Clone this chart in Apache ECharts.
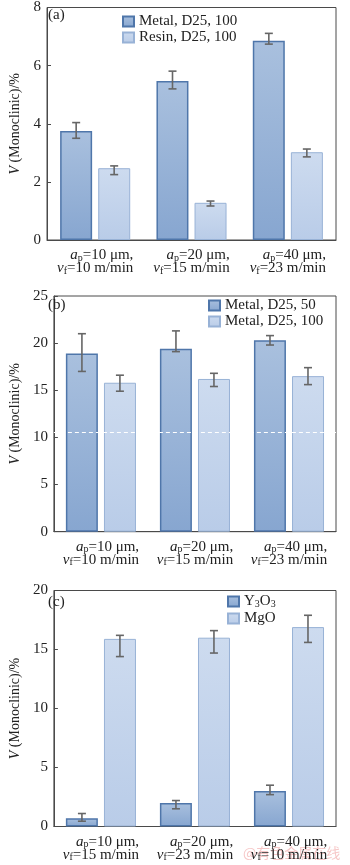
<!DOCTYPE html>
<html>
<head>
<meta charset="utf-8">
<script src="https://cdn.jsdelivr.net/npm/echarts@6/dist/echarts.min.js"></script>
<style>
  html, body { margin: 0; padding: 0; background: #fff; }
  #chart { width: 350px; height: 865px; }
</style>
</head>
<body>
<div id="chart"></div>
<script>
// x category pieces (a_p and v_f values)
const apVals = ['10', '20', '40'];
const vfA = ['10', '15', '23'];
const vfB = ['10', '15', '23'];
const vfC = ['15', '23', '10'];

// panel (a)
const metalA = [3.75, 5.47, 6.86];
const metalALow = [3.5, 5.2, 6.74];
const metalAHigh = [4.04, 5.81, 7.11];
const resinA = [2.47, 1.28, 3.02];
const resinALow = [2.25, 1.17, 2.86];
const resinAHigh = [2.55, 1.34, 3.13];

// panel (b)
const metal50B = [18.9, 19.4, 20.3];
const metal50BLow = [17.0, 19.1, 19.8];
const metal50BHigh = [21.0, 21.3, 20.8];
const metal100B = [15.8, 16.2, 16.5];
const metal100BLow = [14.9, 15.4, 15.6];
const metal100BHigh = [16.6, 16.8, 17.4];

// panel (c)
const y2o3C = [0.7, 2.0, 3.0];
const y2o3CLow = [0.45, 1.5, 2.7];
const y2o3CHigh = [1.1, 2.2, 3.5];
const mgoC = [15.9, 16.0, 16.9];
const mgoCLow = [14.4, 14.7, 15.6];
const mgoCHigh = [16.2, 16.6, 17.9];

const yTicksA = { min: 0, max: 8, interval: 2 };
const yTicksB = { min: 0, max: 25, interval: 5 };
const yTicksC = { min: 0, max: 20, interval: 5 };

const FONT = '"Liberation Serif", "Times New Roman", serif';
const darkStyle = {
  color: new echarts.graphic.LinearGradient(0, 0, 0, 1, [
    { offset: 0, color: '#a9c0de' },
    { offset: 1, color: '#87a6d0' }
  ]),
  borderColor: '#4f76aa',
  borderWidth: 1.5
};
const lightStyle = {
  color: new echarts.graphic.LinearGradient(0, 0, 0, 1, [
    { offset: 0, color: '#cddbef' },
    { offset: 1, color: '#b9cce8' }
  ]),
  borderColor: '#98b2d6',
  borderWidth: 1
};

const chart = echarts.init(document.getElementById('chart'));

const richLabel = {
  i: { fontFamily: FONT, fontSize: 15, fontStyle: 'italic', color: '#222', lineHeight: 13, verticalAlign: 'bottom', align: 'right' },
  s: { fontFamily: FONT, fontSize: 10, color: '#222', lineHeight: 6, verticalAlign: 'bottom', align: 'right' },
  n: { fontFamily: FONT, fontSize: 15, color: '#222', lineHeight: 13, verticalAlign: 'bottom', align: 'right' }
};

function cats(vf) {
  return apVals.map((ap, k) => '{i|a}{s|p}{n|=' + ap + ' μm,}\n{i|v}{s|f}{n|=' + vf[k] + ' m/min}');
}

const tops = [6, 296, 590.5];
const heights = [234, 235.7, 236];

const grids = tops.map((t, k) => ({
  left: 41, right: 14, top: t, height: heights[k],
  show: true, borderColor: '#4a4a4a', borderWidth: 1, backgroundColor: '#fff'
}));

const xAxes = [vfA, vfB, vfC].map((vf, k) => ({
  type: 'category', gridIndex: k, data: cats(vf),
  axisLine: { lineStyle: { color: '#4a4a4a', width: 1 } },
  axisTick: { show: false },
  axisLabel: { margin: 10, interval: 0, rich: richLabel, formatter: v => v }
}));

const yAxes = [yTicksA, yTicksB, yTicksC].map((t, k) => ({
  type: 'value', gridIndex: k, min: t.min, max: t.max, interval: t.interval,
  name: '{i|V} (Monoclinic)/%', nameLocation: 'middle', nameGap: 25,
  nameTextStyle: {
    fontFamily: FONT, fontSize: 14, color: '#222',
    rich: { i: { fontFamily: FONT, fontSize: 14, fontStyle: 'italic', color: '#222' } }
  },
  axisLine: { show: true, lineStyle: { color: '#4a4a4a', width: 1 } },
  axisTick: { show: true, inside: true, length: 4, lineStyle: { color: '#4a4a4a' } },
  axisLabel: { margin: 6, fontFamily: FONT, fontSize: 15, color: '#222' },
  splitLine: { show: false }
}));

// legend text for each series name (series names must be unique across panels)
const shownName = {
  'Metal, D25, 100': 'Metal, D25, 100',
  'Resin, D25, 100': 'Resin, D25, 100',
  'Metal, D25, 50': 'Metal, D25, 50',
  'Metal, D25, 100 (b)': 'Metal, D25, 100',
  'Y3O3': '{n|Y}{s|3}{n|O}{s|3}',
  'MgO': 'MgO'
};

function barSeries(name, data, k, style, extra) {
  return Object.assign({
    name: name, type: 'bar', xAxisIndex: k, yAxisIndex: k, data: data,
    barWidth: 32, barGap: '19%', itemStyle: style
  }, extra || {});
}

function errSeries(low, high, k, offset) {
  return {
    type: 'custom', xAxisIndex: k, yAxisIndex: k, z: 5, silent: true,
    data: low.map((l, i) => [i, l, high[i]]),
    renderItem: function (params, api) {
      const lo = api.coord([api.value(0), api.value(1)]);
      const hi = api.coord([api.value(0), api.value(2)]);
      const x = lo[0] + offset;
      const w = 4;
      const st = { stroke: '#666', lineWidth: 1.6 };
      return {
        type: 'group',
        children: [
          { type: 'line', shape: { x1: x, y1: lo[1], x2: x, y2: hi[1] }, style: st },
          { type: 'line', shape: { x1: x - w, y1: lo[1], x2: x + w, y2: lo[1] }, style: st },
          { type: 'line', shape: { x1: x - w, y1: hi[1], x2: x + w, y2: hi[1] }, style: st }
        ]
      };
    }
  };
}

const legendText = {
  fontFamily: FONT, fontSize: 15, color: '#222',
  rich: {
    n: { fontFamily: FONT, fontSize: 15, color: '#222' },
    s: { fontFamily: FONT, fontSize: 10, color: '#222', verticalAlign: 'bottom', lineHeight: 6 }
  }
};

function legend(left, top, names, gap) {
  return {
    orient: 'vertical', left: left, top: top, data: names, padding: 0,
    icon: 'rect', itemWidth: 11, itemHeight: 10, itemGap: gap,
    textStyle: legendText,
    formatter: function (n) {
      const s = shownName[n];
      return s.indexOf('{') === 0 ? s : '{n|' + s + '}';
    },
    selectedMode: false
  };
}

const titleText = { fontFamily: FONT, fontSize: 15, fontWeight: 'normal', color: '#222' };

const option = {
  animation: false,
  backgroundColor: '#fff',
  grid: grids,
  xAxis: xAxes,
  yAxis: yAxes,
  title: [
    { text: '(a)', left: 48, top: 8, padding: 0, textStyle: titleText },
    { text: '(b)', left: 48, top: 298, padding: 0, textStyle: titleText },
    { text: '(c)', left: 48, top: 595, padding: 0, textStyle: titleText }
  ],
  legend: [
    legend(122, 14, ['Metal, D25, 100', 'Resin, D25, 100'], 1),
    legend(208, 298, ['Metal, D25, 50', 'Metal, D25, 100 (b)'], 1),
    legend(227, 594, ['Y3O3', 'MgO'], 2)
  ],
  graphic: [
    { type: 'text', left: 243, top: 846, style: { text: '@有色金属在线', font: '14px "Noto Sans CJK SC"', fill: 'rgba(235,130,130,0.45)' } }
  ],
  series: [
    barSeries('Metal, D25, 100', metalA, 0, darkStyle),
    barSeries('Resin, D25, 100', resinA, 0, lightStyle),
    errSeries(metalALow, metalAHigh, 0, -19),
    errSeries(resinALow, resinAHigh, 0, 19),

    barSeries('Metal, D25, 50', metal50B, 1, darkStyle),
    barSeries('Metal, D25, 100 (b)', metal100B, 1, lightStyle, {
      markLine: {
        silent: true, symbol: 'none', label: { show: false },
        lineStyle: { color: '#fff', type: [4, 3], width: 1 },
        data: [{ yAxis: 10.5 }]
      }
    }),
    errSeries(metal50BLow, metal50BHigh, 1, -19),
    errSeries(metal100BLow, metal100BHigh, 1, 19),

    barSeries('Y3O3', y2o3C, 2, darkStyle),
    barSeries('MgO', mgoC, 2, lightStyle),
    errSeries(y2o3CLow, y2o3CHigh, 2, -19),
    errSeries(mgoCLow, mgoCHigh, 2, 19)
  ]
};

chart.setOption(option);
</script>
</body>
</html>
